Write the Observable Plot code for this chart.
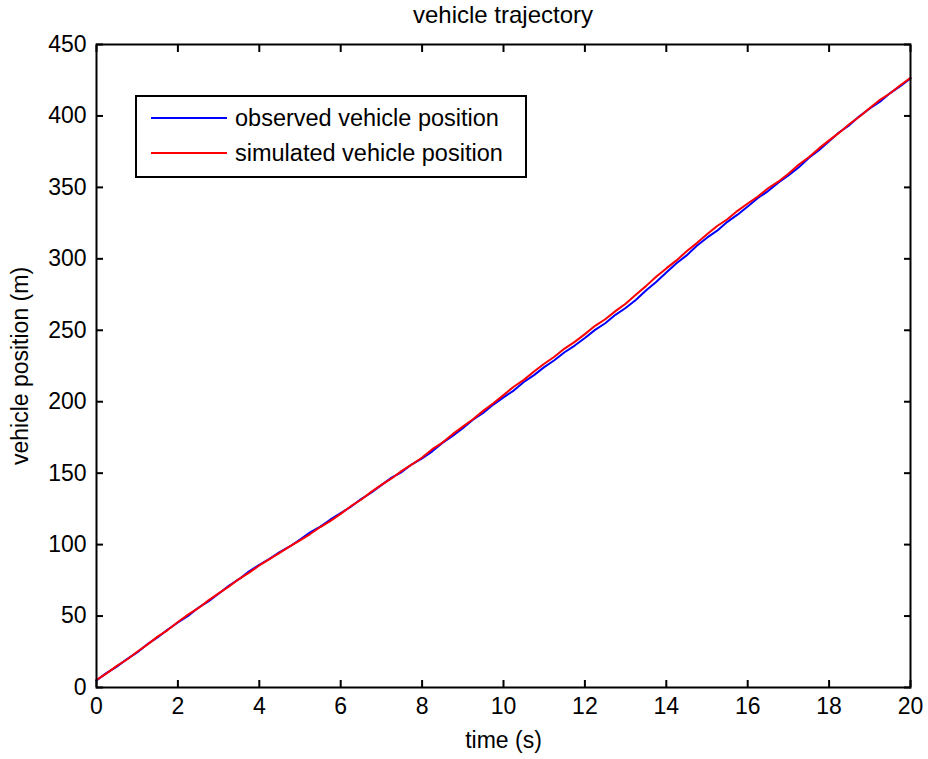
<!DOCTYPE html>
<html>
<head>
<meta charset="utf-8">
<script src="https://cdn.jsdelivr.net/npm/d3@7"></script>
<script src="https://cdn.jsdelivr.net/npm/@observablehq/plot@0.6"></script>
<style>
  html, body { margin: 0; padding: 0; background: #fff; }
  body { font-family: "Liberation Sans", Arial, sans-serif; }
  #wrap { position: relative; width: 928px; height: 759px; }
  #title { height: 30px; line-height: 30px; padding-left: 96px; padding-right: 18px; text-align: center; font-size: 24px; color: #000; box-sizing: border-box; width: 928px; }
  #legend { position: absolute; left: 135px; top: 95px; width: 388px; height: 79px; border: 2px solid #000; background: #fff; font-size: 23.5px; color: #000; }
  .row { position: absolute; left: 0; height: 30px; display: flex; align-items: center; white-space: nowrap; }
  .row svg { margin-left: 14px; margin-right: 8px; }
</style>
</head>
<body>
<div id="wrap">
  <div id="title">vehicle trajectory</div>
  <div id="chart"></div>
  <div id="legend"></div>
</div>
<script>
// time samples (s)
const time = d3.range(0, 20.001, 0.25);

// observed vehicle position (m)
const observed = [5.0, 10.2, 14.6, 19.9, 24.6, 30.3, 35.0, 40.6, 45.5, 50.1, 55.8, 60.3, 65.6, 71.2, 75.8, 81.3, 85.9, 90.0, 94.8, 98.7, 103.6, 108.6, 112.6, 117.6, 122.0, 126.5, 131.9, 136.3, 141.6, 146.9, 150.8, 156.2, 160.4, 165.3, 171.2, 176.0, 181.5, 187.4, 192.1, 198.0, 203.0, 207.8, 213.8, 218.6, 224.2, 229.0, 234.6, 239.3, 244.6, 250.3, 254.9, 260.8, 265.6, 271.2, 277.9, 283.8, 290.4, 296.9, 302.4, 309.1, 314.8, 319.7, 325.9, 330.9, 336.6, 342.6, 347.4, 353.3, 358.4, 363.9, 370.6, 376.0, 382.3, 388.6, 393.6, 399.9, 405.2, 410.0, 416.0, 420.9, 426.3];

// simulated vehicle position (m)
const simulated = [5.3, 9.9, 15.1, 19.6, 25.0, 30.0, 35.6, 40.2, 45.8, 51.0, 55.5, 61.0, 65.9, 70.6, 75.9, 80.4, 85.4, 89.8, 94.2, 98.7, 103.0, 107.4, 112.3, 116.6, 121.5, 126.9, 131.4, 136.9, 141.8, 146.3, 151.6, 156.1, 161.0, 166.8, 171.4, 177.3, 182.6, 187.7, 193.6, 198.9, 204.6, 210.5, 215.3, 221.1, 226.6, 231.5, 237.2, 241.9, 247.3, 253.1, 257.7, 263.4, 268.6, 274.9, 280.9, 287.4, 293.3, 298.9, 305.3, 311.0, 317.2, 323.0, 327.7, 333.6, 338.7, 343.6, 349.4, 354.0, 359.6, 365.8, 371.1, 377.3, 382.9, 388.3, 394.4, 399.6, 405.6, 411.3, 415.9, 421.5, 426.6];

const xTicks = [0, 2, 4, 6, 8, 10, 12, 14, 16, 18, 20];
const yTicks = [0, 50, 100, 150, 200, 250, 300, 350, 400, 450];

const seriesNames = ["observed vehicle position", "simulated vehicle position"];
const seriesColors = ["#0000ff", "#ff0000"];

const obsData = time.map((t, i) => ({t, v: observed[i]}));
const simData = time.map((t, i) => ({t, v: simulated[i]}));

const chart = Plot.plot({
  width: 928,
  height: 729,
  marginLeft: 96,
  marginRight: 18,
  marginTop: 14,
  marginBottom: 72,
  style: {fontFamily: "Liberation Sans, Arial, sans-serif", fontSize: "23px", color: "#000", background: "#fff", overflow: "visible"},
  x: {domain: [0, 20]},
  y: {domain: [0, 450]},
  marks: [
    Plot.line(obsData, {x: "t", y: "v", stroke: seriesColors[0], strokeWidth: 2}),
    Plot.line(simData, {x: "t", y: "v", stroke: seriesColors[1], strokeWidth: 2}),
    Plot.frame({stroke: "#000", strokeWidth: 2}),
    Plot.axisX({anchor: "bottom", ticks: xTicks, tickSize: -7, tickPadding: 17, strokeWidth: 2, label: "time (s)", labelAnchor: "center", labelArrow: "none", labelOffset: 60, fontSize: 23}),
    Plot.axisX({anchor: "top", ticks: xTicks, tickSize: -7, strokeWidth: 2, tickFormat: () => "", label: null}),
    Plot.axisY({anchor: "left", ticks: yTicks, tickSize: -7, tickPadding: 17, strokeWidth: 2, label: "vehicle position (m)", labelAnchor: "center", labelArrow: "none", labelOffset: 85, fontSize: 23}),
    Plot.axisY({anchor: "right", ticks: yTicks, tickSize: -7, strokeWidth: 2, tickFormat: () => "", label: null})
  ]
});
document.getElementById("chart").appendChild(chart);

// legend
const legend = document.getElementById("legend");
seriesNames.forEach((name, i) => {
  const row = document.createElement("div");
  row.className = "row";
  row.style.top = (6 + i * 35) + "px";
  row.innerHTML = `<svg width="76" height="4"><line x1="0" x2="76" y1="2" y2="2" stroke="${seriesColors[i]}" stroke-width="2"/></svg><span>${name}</span>`;
  legend.appendChild(row);
});
</script>
</body>
</html>
